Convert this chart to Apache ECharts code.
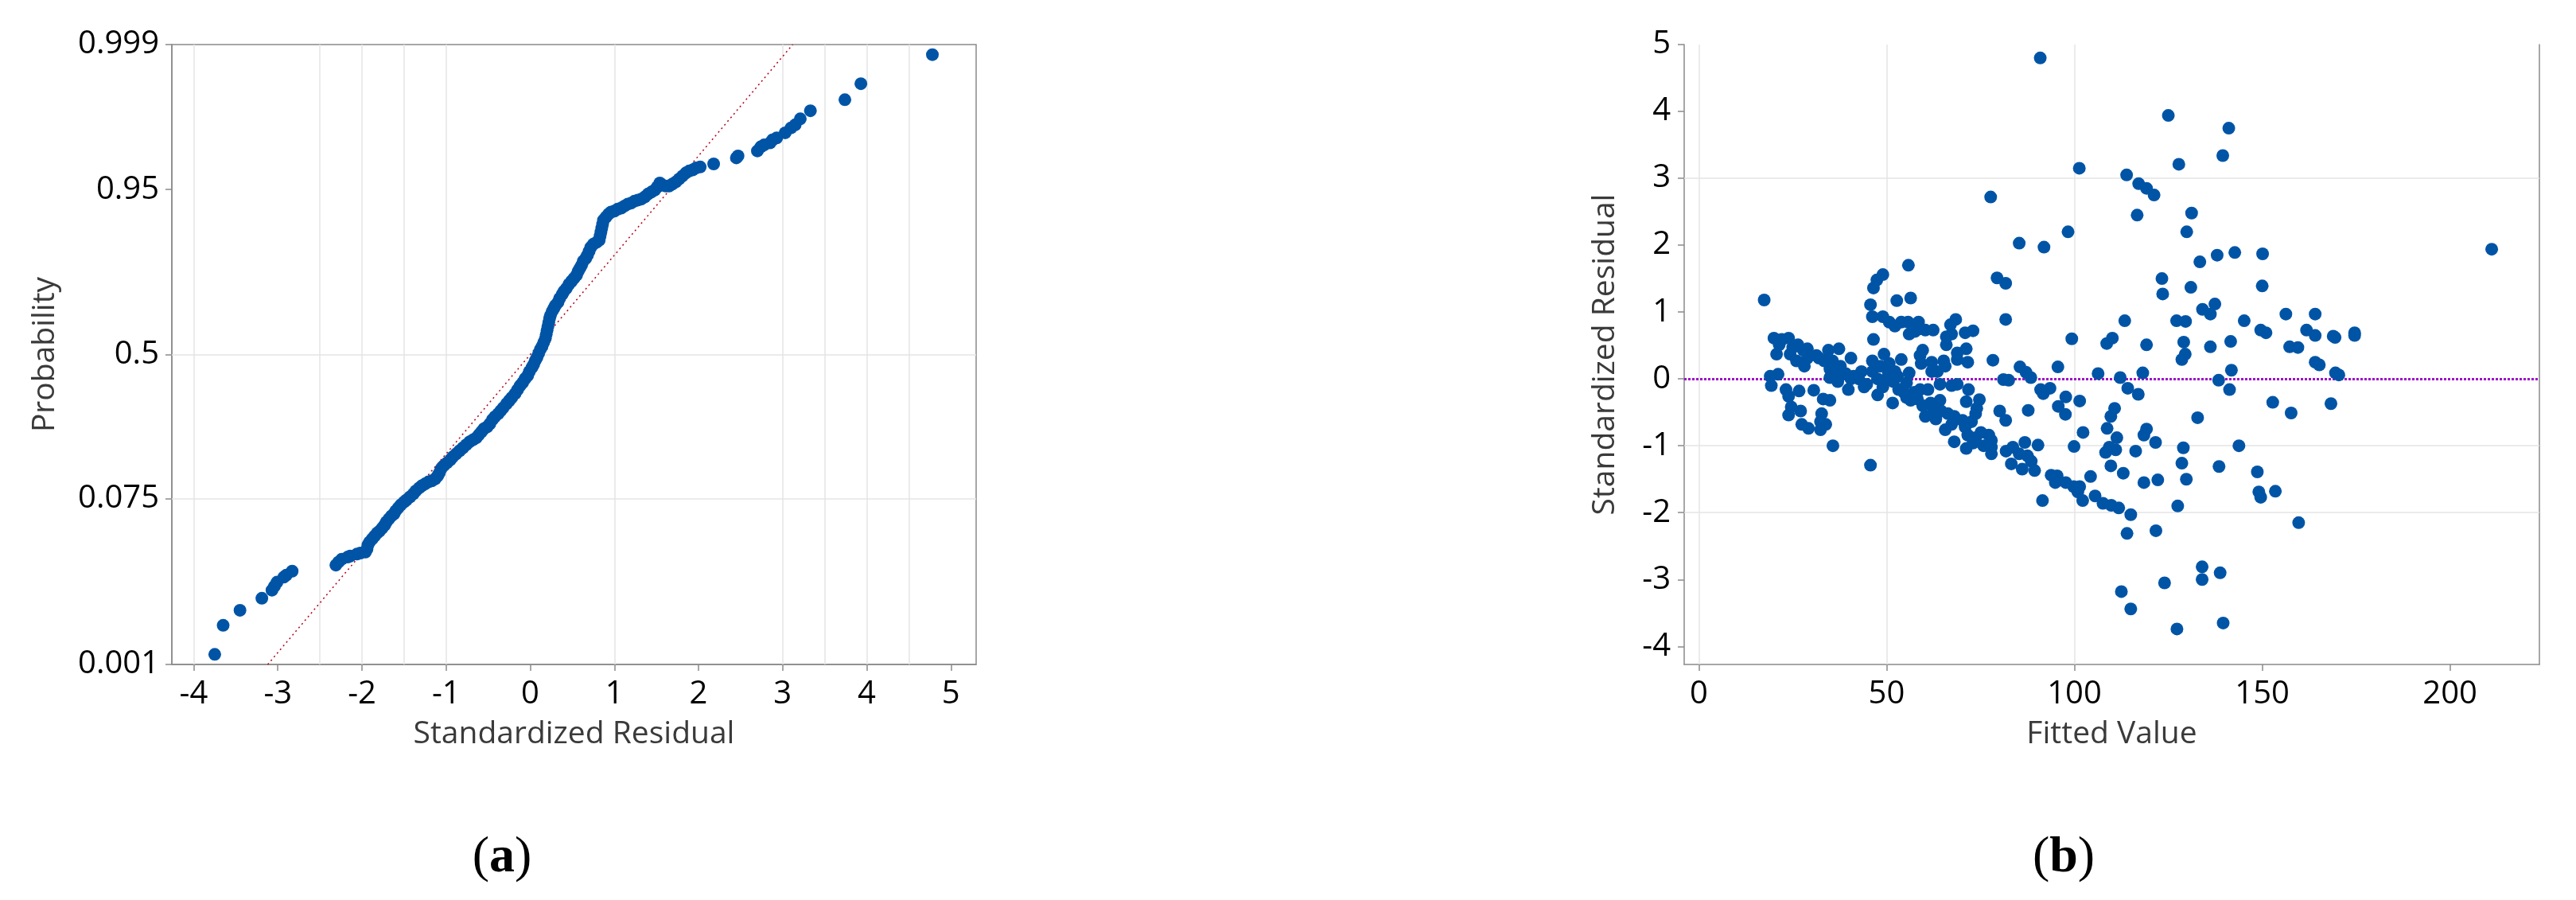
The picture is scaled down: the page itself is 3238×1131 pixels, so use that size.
<!DOCTYPE html>
<html>
<head>
<meta charset="utf-8">
<script src="https://cdn.jsdelivr.net/npm/echarts@6/dist/echarts.min.js"></script>
<style>
html,body{margin:0;padding:0;background:#fff;}
#chart{width:3238px;height:1131px;}
</style>
</head>
<body>
<div id="chart"></div>
<script>
// ---------- Panel (a): normal probability plot ----------
// x tick labels (standardized residual)
const residTicks = [-4, -3, -2, -1, 0, 1, 2, 3, 4, 5];
// probability tick labels and their normal scores (axis is linear in normal score)
const probTickLabels = ['0.001', '0.075', '0.5', '0.95', '0.999'];
const probTickScores = [-3.0902, -1.4395, 0, 1.6449, 3.0902];
// points: [standardized residual, normal score]
const probPlotPoints = [
  [-3.75,-2.99],[-3.65,-2.70],[-3.45,-2.55],[-3.19,-2.43],[-3.07,-2.35],[-3.04,-2.31],[-3.01,-2.27],[-2.93,-2.22],[-2.90,-2.20],[-2.83,-2.16],
  [-2.31,-2.10],[-2.28,-2.07],[-2.24,-2.04],[-2.17,-2.02],[-2.14,-2.01],[-2.06,-1.99],[-2.02,-1.98],[-1.96,-1.97],[-1.94,-1.94],[-1.93,-1.90],
  [-1.91,-1.87],[-1.88,-1.84],[-1.85,-1.81],[-1.82,-1.78],[-1.79,-1.76],[-1.76,-1.73],[-1.73,-1.70],[-1.71,-1.67],[-1.68,-1.64],[-1.65,-1.61],
  [-1.62,-1.59],[-1.60,-1.56],[-1.57,-1.53],[-1.54,-1.50],[-1.50,-1.47],[-1.47,-1.45],[-1.43,-1.42],[-1.39,-1.39],[-1.36,-1.36],[-1.32,-1.33],
  [-1.29,-1.31],[-1.25,-1.29],[-1.21,-1.27],[-1.17,-1.26],[-1.13,-1.24],[-1.10,-1.21],[-1.08,-1.18],[-1.06,-1.14],[-1.03,-1.11],[-0.99,-1.08],
  [-0.95,-1.05],[-0.92,-1.02],[-0.88,-0.99],[-0.84,-0.96],[-0.80,-0.93],[-0.76,-0.90],[-0.72,-0.87],[-0.68,-0.85],[-0.64,-0.83],[-0.61,-0.80],
  [-0.58,-0.77],[-0.55,-0.74],[-0.51,-0.72],[-0.48,-0.69],[-0.45,-0.65],[-0.42,-0.62],[-0.38,-0.59],[-0.35,-0.56],[-0.32,-0.53],[-0.28,-0.49],
  [-0.25,-0.46],[-0.22,-0.43],[-0.18,-0.39],[-0.15,-0.35],[-0.12,-0.31],[-0.09,-0.28],[-0.06,-0.24],[-0.03,-0.21],[-0.01,-0.17],[0.02,-0.13],
  [0.04,-0.10],[0.06,-0.06],[0.08,-0.03],[0.10,0.01],[0.12,0.05],[0.14,0.08],[0.16,0.12],[0.18,0.16],[0.19,0.20],[0.20,0.24],
  [0.21,0.28],[0.22,0.32],[0.23,0.36],[0.24,0.39],[0.26,0.43],[0.28,0.46],[0.30,0.49],[0.33,0.52],[0.35,0.56],[0.38,0.60],
  [0.40,0.63],[0.43,0.66],[0.46,0.70],[0.49,0.73],[0.52,0.76],[0.55,0.79],[0.57,0.83],[0.59,0.86],[0.61,0.89],[0.63,0.93],
  [0.66,0.96],[0.68,0.99],[0.70,1.03],[0.72,1.07],[0.75,1.10],[0.79,1.12],[0.82,1.14],[0.83,1.18],[0.84,1.22],[0.85,1.26],
  [0.86,1.30],[0.87,1.34],[0.90,1.37],[0.93,1.40],[0.96,1.42],[1.00,1.43],[1.04,1.45],[1.08,1.46],[1.12,1.48],[1.16,1.50],
  [1.20,1.51],[1.24,1.53],[1.28,1.54],[1.32,1.55],[1.36,1.57],[1.40,1.60],[1.44,1.62],[1.48,1.64],[1.51,1.67],[1.54,1.71],
  [1.57,1.69],[1.61,1.68],[1.65,1.68],[1.69,1.70],[1.73,1.72],[1.77,1.75],[1.81,1.78],[1.85,1.81],[1.89,1.83],[1.93,1.84],
  [1.97,1.86],[2.02,1.87],[2.18,1.90],[2.45,1.96],[2.47,1.98],[2.70,2.03],[2.74,2.07],[2.78,2.09],[2.85,2.11],[2.88,2.14],
  [2.93,2.16],[3.03,2.21],[3.10,2.26],[3.15,2.29],[3.21,2.35],[3.33,2.43],[3.74,2.54],[3.93,2.70],[4.78,2.99]
];
// fitted normal reference line end points [residual, normal score]
const fitLine = [[-3.12,-3.0902],[3.12,3.0902]];
const gridA_x = [-4, -2.5, -2, -1.5, -1, 1, 3, 3.5, 4, 4.5];
const gridA_y = [0, -1.4395];

// ---------- Panel (b): residuals vs fits ----------
const fittedTicks = [0, 50, 100, 150, 200];
const stdResidTicks = [-4, -3, -2, -1, 0, 1, 2, 3, 4, 5];
// points: [fitted value, standardized residual]
const residVsFit = [
  [90.9,4.80],[125.0,3.94],[141.1,3.75],[139.5,3.34],[127.8,3.21],[101.3,3.15],[113.9,3.05],[117.1,2.92],[119.2,2.85],[121.2,2.75],
  [77.7,2.72],[131.2,2.48],[116.7,2.45],[98.3,2.20],[129.9,2.20],[85.3,2.03],[91.9,1.97],[211.1,1.94],[133.4,1.75],[138.0,1.85],
  [142.7,1.89],[150.1,1.87],[123.3,1.50],[123.5,1.27],[131.0,1.37],[150.0,1.39],[169.4,0.62],[174.6,0.65],[174.6,0.69],[168.9,0.64],
  [169.5,0.09],[170.4,0.06],[168.3,-0.37],[134.0,-2.81],[134.0,-3.00],[138.8,-2.90],[124.0,-3.05],[112.5,-3.18],[115.0,-3.44],[127.3,-3.74],
  [139.6,-3.65],
  [55.8,1.70],[49.0,1.56],[47.4,1.48],[46.5,1.36],[17.4,1.18],[52.7,1.17],[56.4,1.21],[79.4,1.51],[81.7,1.43],[45.7,1.11],
  [46.2,0.93],[49.0,0.93],[50.7,0.85],[52.2,0.79],[53.9,0.85],[55.7,0.85],[58.5,0.85],[58.9,0.75],[56.0,0.67],[60.3,0.73],
  [62.4,0.73],[67.0,0.81],[68.4,0.89],[65.9,0.63],[65.9,0.51],[67.3,0.67],[70.9,0.69],[73.0,0.72],[46.5,0.59],[20.0,0.61],
  [21.4,0.51],[23.9,0.61],[26.4,0.51],[28.9,0.45],[20.7,0.37],[24.3,0.37],[26.0,0.27],[28.1,0.19],[28.9,0.31],[32.0,0.31],
  [34.5,0.43],[37.3,0.45],[40.5,0.31],[35.6,0.27],[34.9,0.15],[37.7,0.19],[34.9,0.02],[37.0,-0.04],[39.1,0.08],[39.8,-0.16],
  [43.3,0.11],[42.6,0.00],[44.7,-0.08],[46.2,0.27],[49.3,0.37],[46.2,0.11],[48.3,0.19],[47.6,0.00],[50.4,0.11],[52.2,0.11],
  [53.9,0.29],[49.0,-0.12],[47.6,-0.24],[51.8,-0.04],[52.9,0.04],[56.0,0.09],[55.3,-0.06],[51.6,-0.36],[59.6,0.43],[58.9,0.35],
  [59.2,0.23],[62.0,0.25],[62.0,0.11],[65.2,0.27],[65.6,0.19],[68.8,0.39],[71.2,0.45],[68.8,0.29],[71.6,0.25],[78.3,0.28],
  [19.0,0.04],[21.1,0.07],[19.3,-0.10],[23.2,-0.16],[23.9,-0.26],[26.7,-0.18],[30.6,-0.17],[33.1,-0.30],[34.9,-0.32],[24.6,-0.42],
  [23.9,-0.54],[27.1,-0.48],[27.4,-0.68],[29.2,-0.74],[32.7,-0.52],[32.4,-0.64],[33.8,-0.68],[32.4,-0.76],[35.7,-1.00],[45.7,-1.29],
  [64.2,-0.08],[67.3,-0.10],[68.8,-0.08],[71.8,-0.16],[54.6,-0.20],[57.4,-0.20],[58.9,-0.16],[61.0,-0.16],[55.3,-0.28],[58.2,-0.30],
  [59.6,-0.40],[61.7,-0.36],[64.2,-0.32],[60.3,-0.56],[62.4,-0.52],[64.5,-0.48],[63.1,-0.60],[66.3,-0.52],[68.0,-0.56],[71.2,-0.34],
  [74.7,-0.31],[74.0,-0.44],[73.7,-0.52],[70.2,-0.62],[72.6,-0.64],[70.9,-0.72],[65.6,-0.76],[68.0,-0.94],[71.2,-1.04],[73.7,-0.88],
  [75.1,-0.80],[77.2,-0.84],[77.9,-0.92],[77.9,-1.12],[75.8,-1.00],[80.1,-0.48],[41.2,0.04],[44.0,-0.12],[40.5,0.00],[37.0,0.07],
  [33.4,0.27],[31.3,0.35],[27.8,0.43],[22.1,0.59],[25.0,0.47],[57.5,0.71],[50.7,0.23],[50.0,0.00],[53.2,-0.16],[63.5,0.11],
  [56.4,-0.32],[62.4,-0.44],[67.3,-0.68],[71.6,-0.84],[73.0,-0.96],[77.9,-1.02],
  [81.7,0.89],[113.4,0.87],[127.2,0.87],[129.6,0.86],[134.1,1.04],[136.2,0.97],[137.4,1.12],[145.2,0.87],[156.3,0.97],[164.1,0.97],
  [149.6,0.73],[151.0,0.69],[161.8,0.73],[164.1,0.65],[99.3,0.60],[108.6,0.53],[110.1,0.61],[119.2,0.51],[129.1,0.55],[129.5,0.37],
  [128.6,0.29],[136.2,0.48],[141.6,0.56],[157.3,0.48],[159.5,0.47],[164.1,0.25],[165.2,0.21],[85.5,0.18],[87.1,0.10],[88.4,0.02],
  [95.6,0.18],[81.1,-0.01],[82.5,-0.02],[106.3,0.08],[112.2,0.02],[118.2,0.09],[114.2,-0.14],[117.0,-0.23],[138.4,-0.02],[141.8,0.13],
  [141.3,-0.16],[91.0,-0.16],[93.5,-0.14],[91.7,-0.22],[97.7,-0.27],[95.7,-0.41],[101.4,-0.33],[97.6,-0.53],[81.7,-0.62],[87.7,-0.47],
  [152.8,-0.35],[157.7,-0.51],[132.8,-0.58],[110.7,-0.44],[109.7,-0.56],[108.7,-0.74],[102.3,-0.80],[111.3,-0.88],[109.3,-1.02],[108.3,-1.10],
  [111.0,-1.06],[118.5,-0.84],[119.2,-0.75],[121.6,-0.95],[116.3,-1.08],[109.7,-1.30],[113.0,-1.41],[99.9,-1.01],[90.3,-0.99],[86.8,-0.95],
  [83.6,-1.02],[81.8,-1.08],[85.3,-1.12],[87.5,-1.15],[88.5,-1.23],[83.2,-1.27],[86.1,-1.35],[89.4,-1.37],[93.8,-1.44],[95.4,-1.45],
  [94.9,-1.55],[97.7,-1.55],[99.8,-1.61],[101.4,-1.61],[100.9,-1.69],[102.2,-1.82],[104.3,-1.46],[105.5,-1.75],[107.6,-1.86],[109.8,-1.89],
  [111.8,-1.93],[115.0,-2.03],[114.0,-2.31],[121.7,-2.27],[91.5,-1.82],[118.5,-1.55],[122.2,-1.51],[129.8,-1.50],[128.6,-1.26],[129.0,-1.03],
  [127.5,-1.90],[138.5,-1.31],[143.8,-1.00],[148.7,-1.39],[149.1,-1.69],[149.6,-1.77],[153.5,-1.68],[159.7,-2.15]
];
const gridB_x = [0, 50, 100];
const gridB_y = [3, -1, -2];

const FONT = '"Open Sans", "Noto Sans", sans-serif';
const AXIS_COLOR = '#8a8a8a';
const GRID_COLOR = '#e4e4e4';
const DOT = '#0054a6';

function probLabel(v) {
  for (let i = 0; i < probTickScores.length; i++) {
    if (Math.abs(probTickScores[i] - v) < 1e-6) return probTickLabels[i];
  }
  return '';
}

const chart = echarts.init(document.getElementById('chart'), null, {renderer: 'canvas'});

const tickLabel = {fontSize: 40, color: '#000', fontFamily: FONT};
const nameStyle = {fontSize: 39, color: '#3a3a3a', fontFamily: FONT};
const axisLineStyle = {show: true, onZero: false, lineStyle: {color: AXIS_COLOR, width: 1.5}};

chart.setOption({
  animation: false,
  backgroundColor: '#fff',
  grid: [
    {left: 216, top: 56, width: 1011, height: 779, show: true, borderColor: AXIS_COLOR, borderWidth: 1.5, backgroundColor: 'transparent'},
    {left: 2117, top: 56, width: 1075, height: 779}
  ],
  xAxis: [
    {
      type: 'value', gridIndex: 0, min: -4.26, max: 5.3,
      name: 'Standardized Residual', nameLocation: 'middle', nameGap: 68, nameTextStyle: nameStyle,
      axisLine: axisLineStyle,
      axisTick: {show: true, length: 8, customValues: residTicks, lineStyle: {color: AXIS_COLOR, width: 1.5}},
      axisLabel: {customValues: residTicks, margin: 18, ...tickLabel},
      splitLine: {show: false}
    },
    {
      type: 'value', gridIndex: 1, min: -3.9, max: 223.8,
      name: 'Fitted Value', nameLocation: 'middle', nameGap: 68, nameTextStyle: nameStyle,
      axisLine: axisLineStyle,
      axisTick: {show: true, length: 8, customValues: fittedTicks, lineStyle: {color: AXIS_COLOR, width: 1.5}},
      axisLabel: {customValues: fittedTicks, margin: 18, ...tickLabel},
      splitLine: {show: false}
    }
  ],
  yAxis: [
    {
      type: 'value', gridIndex: 0, min: probTickScores[0], max: probTickScores[probTickScores.length - 1],
      name: 'Probability', nameLocation: 'middle', nameGap: 140, nameRotate: 90, nameTextStyle: nameStyle,
      axisLine: axisLineStyle,
      axisTick: {show: true, length: 8, customValues: probTickScores, lineStyle: {color: AXIS_COLOR, width: 1.5}},
      axisLabel: {customValues: probTickScores, margin: 16, formatter: probLabel, ...tickLabel},
      splitLine: {show: false}
    },
    {
      type: 'value', gridIndex: 1, min: -4.27, max: 5,
      name: 'Standardized Residual', nameLocation: 'middle', nameGap: 80, nameRotate: 90, nameTextStyle: nameStyle,
      axisLine: axisLineStyle,
      axisTick: {show: true, length: 8, customValues: stdResidTicks, lineStyle: {color: AXIS_COLOR, width: 1.5}},
      axisLabel: {customValues: stdResidTicks, margin: 17, ...tickLabel},
      splitLine: {show: false}
    },
    {
      type: 'value', gridIndex: 1, position: 'right', min: -4.27, max: 5,
      axisLine: axisLineStyle,
      axisTick: {show: false}, axisLabel: {show: false}, splitLine: {show: false}
    }
  ],
  graphic: [
    {type: 'text', x: 631, y: 1078, style: {text: '{p|(}{b|a}{p|)}', align: 'center', verticalAlign: 'middle',
      rich: {p: {fontSize: 64, fontFamily: '"Liberation Serif", serif', fill: '#000'}, b: {fontSize: 64, fontWeight: 'bold', fontFamily: '"Liberation Serif", serif', fill: '#000'}}}},
    {type: 'text', x: 2594, y: 1078, style: {text: '{p|(}{b|b}{p|)}', align: 'center', verticalAlign: 'middle',
      rich: {p: {fontSize: 64, fontFamily: '"Liberation Serif", serif', fill: '#000'}, b: {fontSize: 64, fontWeight: 'bold', fontFamily: '"Liberation Serif", serif', fill: '#000'}}}}
  ],
  series: [
    {
      type: 'line', xAxisIndex: 0, yAxisIndex: 0, data: [], silent: true, z: 1,
      markLine: {
        silent: true, symbol: 'none', z: 1, label: {show: false},
        lineStyle: {color: GRID_COLOR, width: 1.5, type: 'solid'},
        data: gridA_x.map(v => ({xAxis: v})).concat(gridA_y.map(v => ({yAxis: v})))
      }
    },
    {
      type: 'line', xAxisIndex: 0, yAxisIndex: 0, data: fitLine, silent: true, z: 2,
      symbol: 'none', lineStyle: {color: '#b3001b', width: 1.5, type: [2, 4]}
    },
    {
      type: 'scatter', xAxisIndex: 0, yAxisIndex: 0, data: probPlotPoints, silent: true, z: 3,
      symbol: 'circle', symbolSize: 16, itemStyle: {color: DOT, opacity: 1}
    },
    {
      type: 'line', xAxisIndex: 1, yAxisIndex: 1, data: [], silent: true, z: 1,
      markLine: {
        silent: true, symbol: 'none', z: 1, label: {show: false},
        lineStyle: {color: GRID_COLOR, width: 1.5, type: 'solid'},
        data: gridB_x.map(v => ({xAxis: v})).concat(gridB_y.map(v => ({yAxis: v})))
      }
    },
    {
      type: 'line', xAxisIndex: 1, yAxisIndex: 1, data: [], silent: true, z: 2,
      markLine: {
        silent: true, symbol: 'none', z: 2, label: {show: false},
        lineStyle: {color: '#a010c8', width: 3, type: [3, 2]},
        data: [{yAxis: 0}]
      }
    },
    {
      type: 'scatter', xAxisIndex: 1, yAxisIndex: 1, data: residVsFit, silent: true, z: 3,
      symbol: 'circle', symbolSize: 16, itemStyle: {color: DOT, opacity: 1}
    }
  ]
});
</script>
</body>
</html>
